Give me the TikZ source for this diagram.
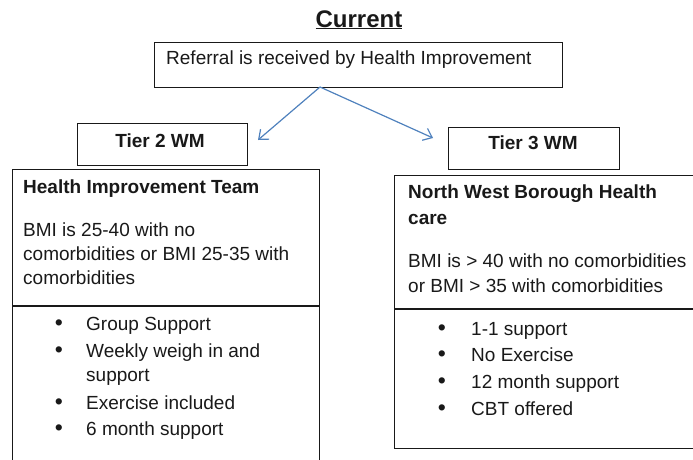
\documentclass[tikz,border=0pt]{standalone}
\usepackage{fontspec}
\setmainfont{Liberation Sans}
\usetikzlibrary{arrows.meta}
\definecolor{arrowblue}{RGB}{79,129,189}
\definecolor{ink}{RGB}{25,25,25}
\begin{document}
\begin{tikzpicture}[x=1pt,y=-1pt,
  box/.style={draw=ink, line width=1.3pt, rectangle, inner sep=0pt, anchor=north west},
  rule/.style={draw=ink, line width=1.3pt},
  txt/.style={anchor=base west, inner sep=0pt, text=ink, font=\fontsize{19}{23}\selectfont},
  btxt/.style={anchor=base west, inner sep=0pt, text=ink, font=\fontsize{19}{23}\selectfont\bfseries},
  ctr/.style={anchor=center, inner sep=0pt, text=ink, font=\fontsize{19}{23}\selectfont\bfseries},
  bul/.style={anchor=base, inner sep=0pt, text=ink, font=\fontsize{23}{27}\selectfont},
  link/.style={draw=arrowblue, line width=1.2pt, -{Straight Barb[length=8pt,width=13pt]}}]
\useasboundingbox (0,0) rectangle (693,459);
\clip (0,0) rectangle (693,459);

% title
\node[anchor=base, inner sep=0pt, text=ink, font=\fontsize{24}{28}\selectfont\bfseries] (title) at (359,27) {\underline{Current}};

% boxes
\node[box, minimum width=408pt, minimum height=45pt] (ref) at (154,42) {};
\node[box, minimum width=170pt, minimum height=42pt] (t2) at (77,123) {};
\node[box, minimum width=171pt, minimum height=42pt] (t3) at (448,127) {};
\node[box, minimum width=307pt, minimum height=320pt] (hit) at (12,169) {};
\node[box, minimum width=320pt, minimum height=273pt] (nwb) at (394,175) {};

% dividers
\coordinate (d1) at (0,306);
\coordinate (d2) at (0,309);
\draw[rule] (hit.west |- d1) -- (hit.east |- d1);
\draw[rule] (nwb.west |- d2) -- (nwb.east |- d2);

% top text
\node[txt] (reftext) at (166,64) {Referral is received by Health Improvement};
\node[ctr] (t2l) at (160,141) {Tier 2 WM};
\node[ctr] (t3l) at (533,143) {Tier 3 WM};

% arrows
\coordinate (split) at (320,87);
\coordinate (tipL) at (258,140);
\coordinate (tipR) at (433,138);
\draw[link] (split) -- (tipL);
\draw[link] (split) -- (tipR);

% left box
\node[btxt] (hitT) at (23,193) {Health Improvement Team};
\node[txt] (hitA) at (23,236) {BMI is 25-40 with no};
\node[txt] (hitB) at (23,260) {comorbidities or BMI 25-35 with};
\node[txt] (hitC) at (23,284) {comorbidities};
\node[bul] (lb1) at (59,330) {•};
\node[txt] (l1) at (86,330) {Group Support};
\node[bul] (lb2) at (59,357) {•};
\node[txt] (l2) at (86,357) {Weekly weigh in and};
\node[txt] (l2b) at (86,381) {support};
\node[bul] (lb3) at (59,409) {•};
\node[txt] (l3) at (86,409) {Exercise included};
\node[bul] (lb4) at (59,435) {•};
\node[txt] (l4) at (86,435) {6 month support};

% right box
\node[btxt] (nwbT) at (408,198) {North West Borough Health};
\node[btxt] (nwbT2) at (408,224) {care};
\node[txt] (nwbA) at (408,267) {BMI is > 40 with no comorbidities};
\node[txt] (nwbB) at (408,292) {or BMI > 35 with comorbidities};
\node[bul] (rb1) at (442,335) {•};
\node[txt] (r1) at (471,335) {1-1 support};
\node[bul] (rb2) at (442,361) {•};
\node[txt] (r2) at (471,361) {No Exercise};
\node[bul] (rb3) at (442,388) {•};
\node[txt] (r3) at (471,388) {12 month support};
\node[bul] (rb4) at (442,415) {•};
\node[txt] (r4) at (471,415) {CBT offered};
\end{tikzpicture}
\end{document}
